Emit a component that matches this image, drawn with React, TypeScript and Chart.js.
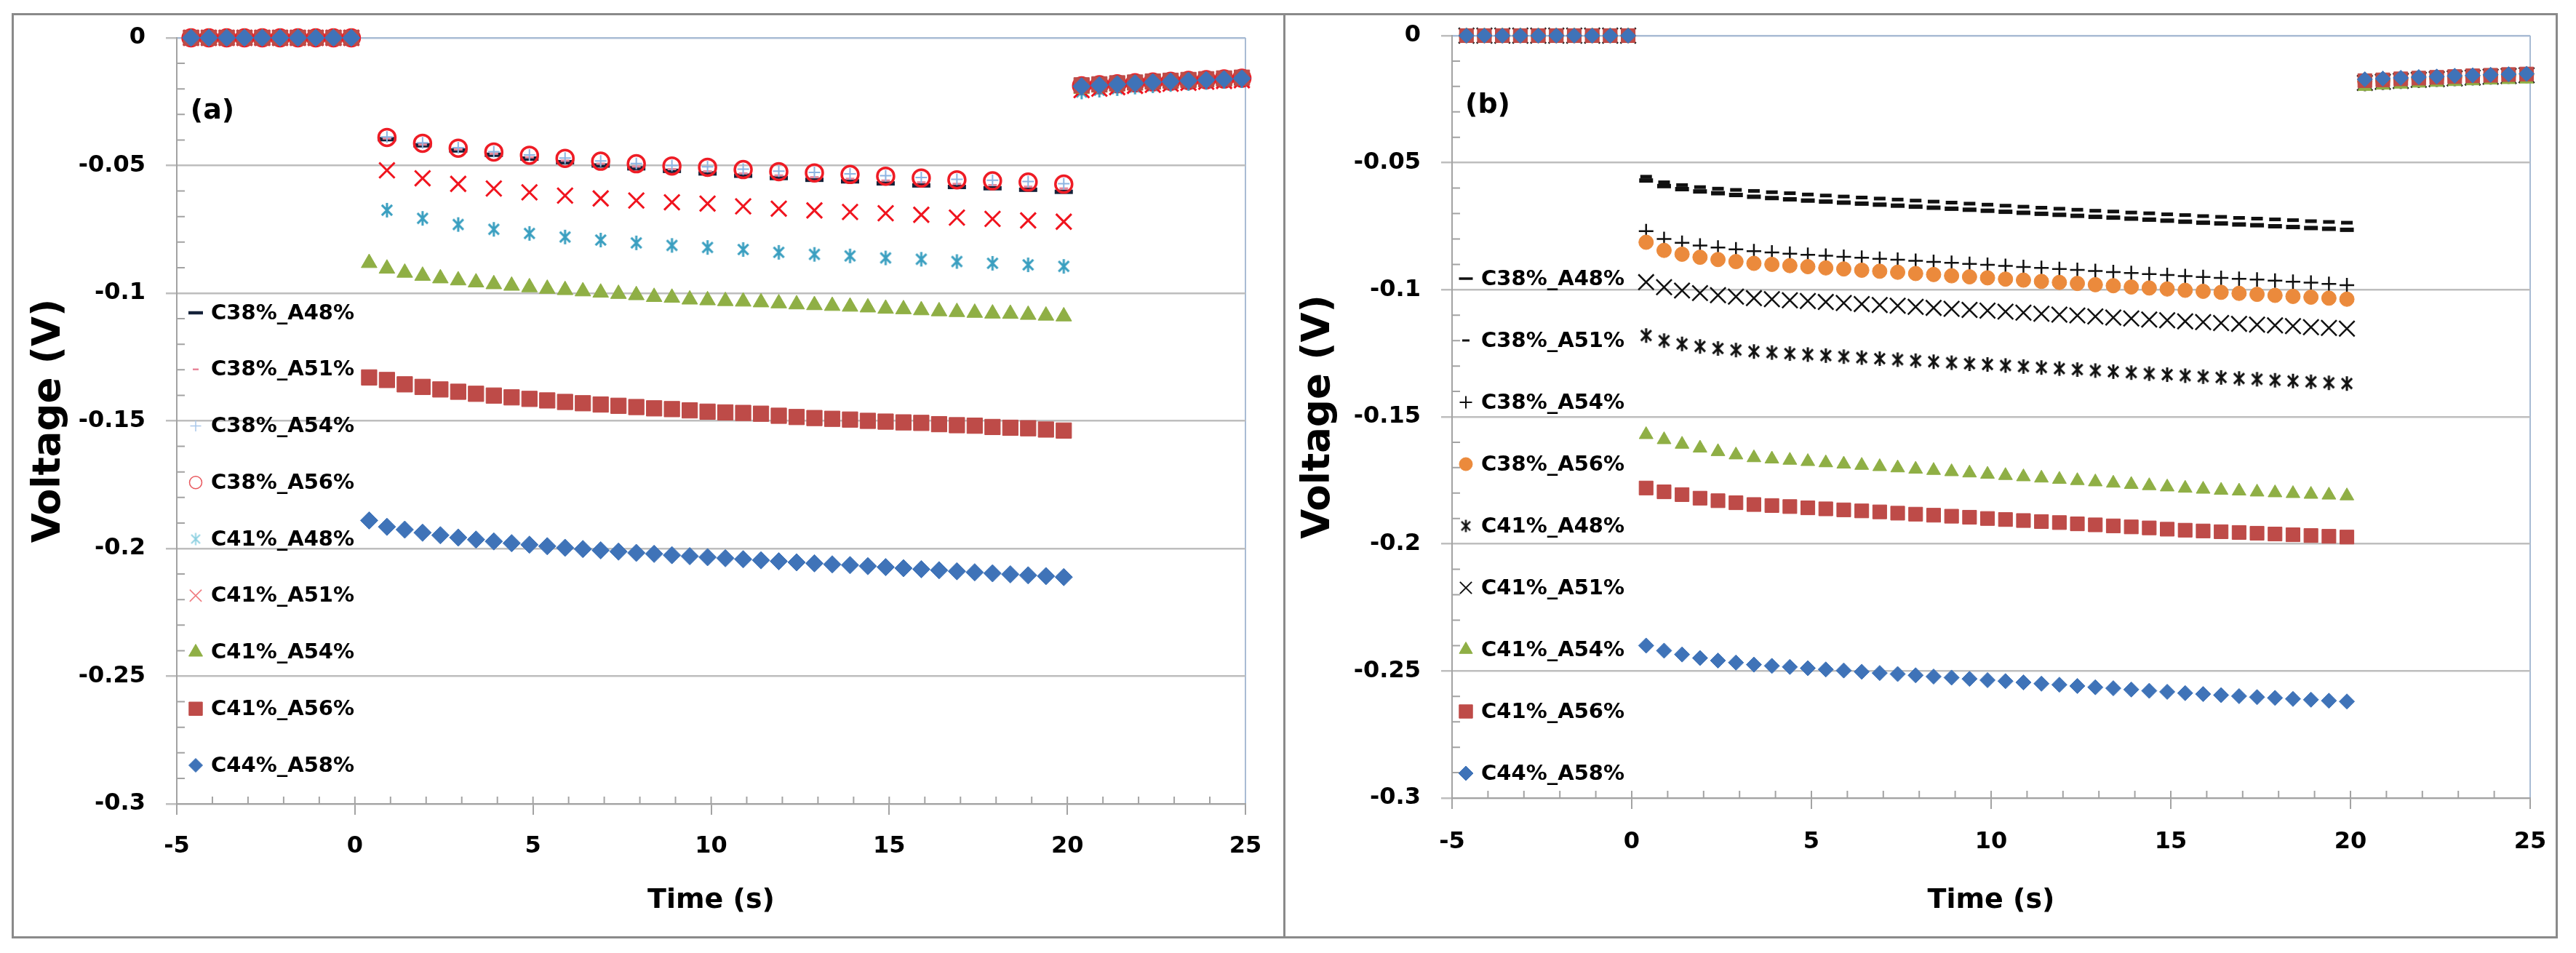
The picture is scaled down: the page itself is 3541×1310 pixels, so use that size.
import React, { useEffect, useRef } from 'react';
import { Chart, registerables } from 'chart.js';
import { drawPoint } from 'chart.js/helpers';

Chart.register(...registerables);
if (typeof document !== 'undefined') {
  document.body.style.margin = '0';
  document.body.style.background = '#ffffff';
}

// ---------- DATA ----------
const tPre = [-4.6, -4.1, -3.6, -3.1, -2.6, -2.1, -1.6, -1.1, -0.6, -0.1];
const tRec = [20.4, 20.9, 21.4, 21.9, 22.4, 22.9, 23.4, 23.9, 24.4, 24.9];
const tFast = [0.4, 0.9, 1.4, 1.9, 2.4, 2.9, 3.4, 3.9, 4.4, 4.9, 5.4, 5.9, 6.4, 6.9, 7.4, 7.9, 8.4, 8.9, 9.4, 9.9,
  10.4, 10.9, 11.4, 11.9, 12.4, 12.9, 13.4, 13.9, 14.4, 14.9, 15.4, 15.9, 16.4, 16.9, 17.4, 17.9, 18.4, 18.9, 19.4, 19.9];
const tSlow = [0.9, 1.9, 2.9, 3.9, 4.9, 5.9, 6.9, 7.9, 8.9, 9.9, 10.9, 11.9, 12.9, 13.9, 14.9, 15.9, 16.9, 17.9, 18.9, 19.9];
const preZero = [0, 0, 0, 0, 0, 0, 0, 0, 0, 0];

const seriesLabels = ['C38%_A48%', 'C38%_A51%', 'C38%_A54%', 'C38%_A56%', 'C41%_A48%', 'C41%_A51%', 'C41%_A54%', 'C41%_A56%', 'C44%_A58%'];
const xTickStep = 5;
const yTickStep = 0.05;

// panel (a)
const a_C38_A48 = [-0.0397, -0.0421, -0.0441, -0.0458, -0.0473, -0.0487, -0.0500, -0.0511, -0.0521, -0.0531, -0.0540, -0.0549, -0.0556, -0.0562, -0.0570, -0.0578, -0.0584, -0.0589, -0.0595, -0.0603];
const a_C38_A51 = [-0.0394, -0.0418, -0.0437, -0.0454, -0.0468, -0.0481, -0.0493, -0.0504, -0.0514, -0.0523, -0.0531, -0.0539, -0.0546, -0.0552, -0.0559, -0.0566, -0.0572, -0.0577, -0.0583, -0.0590];
const a_C38_A54 = [-0.0388, -0.0411, -0.0430, -0.0446, -0.0459, -0.0471, -0.0482, -0.0492, -0.0500, -0.0505, -0.0514, -0.0522, -0.0527, -0.0533, -0.0540, -0.0547, -0.0554, -0.0558, -0.0563, -0.0571];
const a_C38_A56 = [-0.0390, -0.0413, -0.0432, -0.0447, -0.0460, -0.0472, -0.0483, -0.0493, -0.0502, -0.0507, -0.0516, -0.0524, -0.0529, -0.0535, -0.0542, -0.0549, -0.0556, -0.0560, -0.0565, -0.0573];
const a_C41_A48 = [-0.0675, -0.0707, -0.0731, -0.0750, -0.0766, -0.0780, -0.0792, -0.0803, -0.0813, -0.0821, -0.0829, -0.0840, -0.0848, -0.0854, -0.0862, -0.0867, -0.0876, -0.0883, -0.0889, -0.0895];
const a_C41_A51 = [-0.0519, -0.0550, -0.0572, -0.0590, -0.0605, -0.0618, -0.0629, -0.0637, -0.0644, -0.0649, -0.0660, -0.0669, -0.0676, -0.0682, -0.0687, -0.0693, -0.0704, -0.0709, -0.0715, -0.0720];
const a_C41_A54 = [-0.0882, -0.0904, -0.0920, -0.0932, -0.0942, -0.0950, -0.0958, -0.0965, -0.0971, -0.0977, -0.0983, -0.0988, -0.0993, -0.0998, -0.1003, -0.1008,
  -0.1015, -0.1018, -0.1025, -0.1028, -0.1031, -0.1033, -0.1036, -0.1040, -0.1044, -0.1047, -0.1050, -0.1053, -0.1056, -0.1061, -0.1063, -0.1067, -0.1071, -0.1074, -0.1077, -0.1080, -0.1081, -0.1085, -0.1088, -0.1091];
const a_C41_A56 = [-0.1330, -0.1340, -0.1357, -0.1367, -0.1377, -0.1386, -0.1394, -0.1401, -0.1408, -0.1414, -0.1420, -0.1426, -0.1431, -0.1436, -0.1441, -0.1446,
  -0.1451, -0.1454, -0.1459, -0.1464, -0.1467, -0.1469, -0.1472, -0.1480, -0.1485, -0.1489, -0.1492, -0.1495, -0.1500, -0.1503, -0.1506, -0.1508, -0.1513, -0.1517, -0.1519, -0.1524, -0.1527, -0.1529, -0.1534, -0.1538];
const a_C44_A58 = [-0.1890, -0.1915, -0.1926, -0.1938, -0.1948, -0.1957, -0.1965, -0.1972, -0.1979, -0.1985, -0.1991, -0.1997, -0.2002, -0.2007, -0.2012, -0.2017, -0.2021, -0.2026, -0.2030, -0.2034,
  -0.2038, -0.2042, -0.2046, -0.2050, -0.2054, -0.2058, -0.2062, -0.2065, -0.2069, -0.2073, -0.2077, -0.2081, -0.2085, -0.2089, -0.2093, -0.2097, -0.2101, -0.2105, -0.2108, -0.2112];
const recA_C38 = [-0.0188, -0.0184, -0.0180, -0.0176, -0.0173, -0.0170, -0.0167, -0.0164, -0.0161, -0.0158];
const recA_C41_48 = [-0.0212, -0.0205, -0.0199, -0.0193, -0.0188, -0.0183, -0.0179, -0.0175, -0.0171, -0.0168];
const recA_C41_51 = [-0.0205, -0.0199, -0.0193, -0.0188, -0.0184, -0.0180, -0.0176, -0.0172, -0.0169, -0.0166];
const recA_C41_54 = [-0.0200, -0.0195, -0.0190, -0.0186, -0.0182, -0.0178, -0.0174, -0.0171, -0.0168, -0.0165];
const recA_C41_56 = [-0.0186, -0.0182, -0.0178, -0.0175, -0.0171, -0.0168, -0.0165, -0.0162, -0.0159, -0.0156];
const recA_C44 = [-0.0190, -0.0186, -0.0182, -0.0178, -0.0174, -0.0171, -0.0168, -0.0165, -0.0162, -0.0159];

// panel (b)
const b_C38_A48 = [-0.0570, -0.0592, -0.0604, -0.0613, -0.0620, -0.0627, -0.0634, -0.0639, -0.0644, -0.0649, -0.0653, -0.0657, -0.0661, -0.0665, -0.0669, -0.0673, -0.0677, -0.0681, -0.0685, -0.0689,
  -0.0693, -0.0697, -0.0701, -0.0705, -0.0709, -0.0713, -0.0716, -0.0720, -0.0724, -0.0728, -0.0732, -0.0736, -0.0739, -0.0743, -0.0746, -0.0750, -0.0753, -0.0757, -0.0760, -0.0764];
const b_C38_A51 = [-0.0555, -0.0577, -0.0588, -0.0596, -0.0602, -0.0607, -0.0611, -0.0616, -0.0620, -0.0625, -0.0629, -0.0633, -0.0637, -0.0641, -0.0645, -0.0649, -0.0653, -0.0657, -0.0661, -0.0665,
  -0.0669, -0.0673, -0.0677, -0.0681, -0.0685, -0.0689, -0.0692, -0.0696, -0.0699, -0.0703, -0.0706, -0.0710, -0.0713, -0.0717, -0.0720, -0.0723, -0.0726, -0.0730, -0.0733, -0.0736];
const b_C38_A54 = [-0.0769, -0.0800, -0.0815, -0.0826, -0.0834, -0.0841, -0.0848, -0.0853, -0.0858, -0.0862, -0.0866, -0.0870, -0.0874, -0.0878, -0.0882, -0.0886, -0.0890, -0.0894, -0.0898, -0.0902,
  -0.0906, -0.0910, -0.0914, -0.0918, -0.0922, -0.0926, -0.0930, -0.0934, -0.0938, -0.0942, -0.0946, -0.0950, -0.0953, -0.0957, -0.0960, -0.0964, -0.0968, -0.0972, -0.0977, -0.0982];
const b_C38_A56 = [-0.0813, -0.0845, -0.0860, -0.0872, -0.0881, -0.0889, -0.0896, -0.0900, -0.0905, -0.0909, -0.0914, -0.0918, -0.0923, -0.0927, -0.0931, -0.0936, -0.0940, -0.0945, -0.0949, -0.0953,
  -0.0958, -0.0962, -0.0967, -0.0971, -0.0975, -0.0980, -0.0984, -0.0989, -0.0993, -0.0997, -0.1002, -0.1006, -0.1010, -0.1014, -0.1018, -0.1022, -0.1026, -0.1029, -0.1033, -0.1037];
const b_C41_A48 = [-0.1180, -0.1200, -0.1213, -0.1223, -0.1231, -0.1237, -0.1243, -0.1247, -0.1251, -0.1255, -0.1259, -0.1263, -0.1267, -0.1271, -0.1275, -0.1279, -0.1283, -0.1287, -0.1291, -0.1294,
  -0.1298, -0.1302, -0.1306, -0.1310, -0.1314, -0.1318, -0.1322, -0.1326, -0.1330, -0.1334, -0.1338, -0.1342, -0.1345, -0.1349, -0.1352, -0.1356, -0.1359, -0.1362, -0.1366, -0.1369];
const b_C41_A51 = [-0.0970, -0.0990, -0.1003, -0.1013, -0.1021, -0.1027, -0.1033, -0.1037, -0.1041, -0.1044, -0.1048, -0.1052, -0.1056, -0.1060, -0.1063, -0.1067, -0.1071, -0.1075, -0.1079, -0.1082,
  -0.1086, -0.1090, -0.1094, -0.1098, -0.1101, -0.1105, -0.1109, -0.1113, -0.1117, -0.1120, -0.1124, -0.1127, -0.1131, -0.1134, -0.1137, -0.1140, -0.1143, -0.1147, -0.1150, -0.1153];
const b_C41_A54 = [-0.1570, -0.1590, -0.1608, -0.1623, -0.1637, -0.1650, -0.1661, -0.1666, -0.1671, -0.1676, -0.1681, -0.1686, -0.1691, -0.1696, -0.1701, -0.1706, -0.1711, -0.1716, -0.1721, -0.1726,
  -0.1731, -0.1736, -0.1741, -0.1746, -0.1751, -0.1756, -0.1761, -0.1766, -0.1771, -0.1776, -0.1781, -0.1785, -0.1789, -0.1792, -0.1796, -0.1799, -0.1802, -0.1805, -0.1808, -0.1811];
const b_C41_A56 = [-0.1780, -0.1795, -0.1806, -0.1820, -0.1830, -0.1838, -0.1845, -0.1849, -0.1853, -0.1858, -0.1862, -0.1866, -0.1870, -0.1874, -0.1879, -0.1883, -0.1887, -0.1891, -0.1895, -0.1900,
  -0.1904, -0.1908, -0.1912, -0.1916, -0.1921, -0.1925, -0.1929, -0.1933, -0.1937, -0.1942, -0.1946, -0.1949, -0.1952, -0.1955, -0.1958, -0.1961, -0.1964, -0.1967, -0.1970, -0.1973];
const b_C44_A58 = [-0.2400, -0.2420, -0.2435, -0.2449, -0.2459, -0.2467, -0.2475, -0.2480, -0.2484, -0.2489, -0.2494, -0.2498, -0.2503, -0.2508, -0.2512, -0.2517, -0.2522, -0.2526, -0.2531, -0.2536,
  -0.2540, -0.2545, -0.2550, -0.2554, -0.2559, -0.2564, -0.2568, -0.2573, -0.2578, -0.2582, -0.2587, -0.2591, -0.2595, -0.2599, -0.2603, -0.2606, -0.2610, -0.2613, -0.2617, -0.2620];
const recB_C38 = [-0.0180, -0.0176, -0.0172, -0.0169, -0.0166, -0.0163, -0.0160, -0.0157, -0.0155, -0.0152];
const recB_C41_48 = [-0.0190, -0.0185, -0.0181, -0.0177, -0.0173, -0.0170, -0.0167, -0.0164, -0.0161, -0.0158];
const recB_C41_51 = [-0.0186, -0.0182, -0.0178, -0.0174, -0.0171, -0.0168, -0.0165, -0.0162, -0.0159, -0.0156];
const recB_C41_54 = [-0.0200, -0.0195, -0.0191, -0.0187, -0.0184, -0.0181, -0.0178, -0.0175, -0.0173, -0.0171];
const recB_C41_56 = [-0.0177, -0.0174, -0.0170, -0.0167, -0.0164, -0.0161, -0.0158, -0.0156, -0.0153, -0.0151];
const recB_C44 = [-0.0172, -0.0169, -0.0166, -0.0163, -0.0161, -0.0158, -0.0156, -0.0154, -0.0152, -0.0150];

// ---------- STYLE ----------
const FONT = "'DejaVu Sans', 'Liberation Sans', sans-serif";
const GRID = '#BEBEBE';
const AXIS = '#A3A3A3';
const FRAME = '#A9BCD4';

function asterisk(size: number, color: string, lw: number) {
  const c = document.createElement('canvas');
  c.width = size; c.height = size;
  const g = c.getContext('2d')!;
  g.strokeStyle = color; g.lineWidth = lw;
  const m = size / 2; const r = size / 2 - 1;
  const d = r * Math.SQRT1_2;
  g.beginPath();
  g.moveTo(m, m - r); g.lineTo(m, m + r);
  g.moveTo(m - d, m - d); g.lineTo(m + d, m + d);
  g.moveTo(m + d, m - d); g.lineTo(m - d, m + d);
  g.stroke();
  return c;
}

type St = { style: any; r: number; bw: number; stroke: string; fill: string; ls: any; lr: number; lbw: number; lstroke: string; lfill: string };

function stylesA(): St[] {
  const T = 'rgba(0,0,0,0)';
  return [
    { style: 'line', r: 12.5, bw: 6, stroke: '#15223A', fill: T, ls: 'line', lr: 10, lbw: 4.5, lstroke: '#15223A', lfill: T },
    { style: 'line', r: 6, bw: 3, stroke: '#E8879B', fill: T, ls: 'line', lr: 4, lbw: 2.5, lstroke: '#E8879B', lfill: T },
    { style: 'cross', r: 8, bw: 2, stroke: '#8DB4E2', fill: T, ls: 'cross', lr: 7.5, lbw: 1.5, lstroke: '#A9C7EA', lfill: T },
    { style: 'circle', r: 11.5, bw: 3.5, stroke: '#EE1C25', fill: T, ls: 'circle', lr: 8.5, lbw: 1.5, lstroke: '#E8585E', lfill: T },
    { style: asterisk(22, '#3A9FC0', 3), r: 10, bw: 0, stroke: '#3A9FC0', fill: T, ls: asterisk(19, '#8ACFE0', 1.8), lr: 9, lbw: 0, lstroke: '#8ACFE0', lfill: T },
    { style: 'crossRot', r: 15, bw: 3, stroke: '#F0141E', fill: T, ls: 'crossRot', lr: 11.5, lbw: 1.6, lstroke: '#F07C80', lfill: T },
    { style: 'triangle', r: 12.5, bw: 1, stroke: '#8FAF45', fill: '#8FAF45', ls: 'triangle', lr: 11, lbw: 1, lstroke: '#8FAF45', lfill: '#8FAF45' },
    { style: 'rect', r: 15, bw: 1, stroke: '#BE4B48', fill: '#BE4B48', ls: 'rect', lr: 13, lbw: 1, lstroke: '#BE4B48', lfill: '#BE4B48' },
    { style: 'rectRot', r: 12, bw: 1, stroke: '#3F73B8', fill: '#3F73B8', ls: 'rectRot', lr: 9.5, lbw: 1, lstroke: '#3F73B8', lfill: '#3F73B8' },
  ];
}

function stylesB(): St[] {
  const T = 'rgba(0,0,0,0)';
  const K = '#111111';
  return [
    { style: 'line', r: 9.5, bw: 6, stroke: K, fill: T, ls: 'line', lr: 9.5, lbw: 3.5, lstroke: K, lfill: T },
    { style: 'line', r: 8, bw: 5, stroke: K, fill: T, ls: 'line', lr: 5, lbw: 3, lstroke: K, lfill: T },
    { style: 'cross', r: 10, bw: 2.5, stroke: K, fill: T, ls: 'cross', lr: 8.5, lbw: 2, lstroke: K, lfill: T },
    { style: 'circle', r: 10, bw: 1, stroke: '#EB8A3C', fill: '#EB8A3C', ls: 'circle', lr: 9, lbw: 1, lstroke: '#EB8A3C', lfill: '#EB8A3C' },
    { style: asterisk(22, K, 3), r: 10, bw: 0, stroke: K, fill: T, ls: asterisk(19, K, 2.5), lr: 9, lbw: 0, lstroke: K, lfill: T },
    { style: 'crossRot', r: 15, bw: 2.5, stroke: K, fill: T, ls: 'crossRot', lr: 11.5, lbw: 2, lstroke: K, lfill: T },
    { style: 'triangle', r: 11, bw: 1, stroke: '#8FAF45', fill: '#8FAF45', ls: 'triangle', lr: 10.5, lbw: 1, lstroke: '#8FAF45', lfill: '#8FAF45' },
    { style: 'rect', r: 13.5, bw: 1, stroke: '#BE4B48', fill: '#BE4B48', ls: 'rect', lr: 13, lbw: 1, lstroke: '#BE4B48', lfill: '#BE4B48' },
    { style: 'rectRot', r: 10.5, bw: 1, stroke: '#3F73B8', fill: '#3F73B8', ls: 'rectRot', lr: 10, lbw: 1, lstroke: '#3F73B8', lfill: '#3F73B8' },
  ];
}

type Series = { on: number[]; tOn: number[]; rec: number[] };

const seriesA: Series[] = [
  { on: a_C38_A48, tOn: tSlow, rec: recA_C38 },
  { on: a_C38_A51, tOn: tSlow, rec: recA_C38 },
  { on: a_C38_A54, tOn: tSlow, rec: recA_C38 },
  { on: a_C38_A56, tOn: tSlow, rec: recA_C38 },
  { on: a_C41_A48, tOn: tSlow, rec: recA_C41_48 },
  { on: a_C41_A51, tOn: tSlow, rec: recA_C41_51 },
  { on: a_C41_A54, tOn: tFast, rec: recA_C41_54 },
  { on: a_C41_A56, tOn: tFast, rec: recA_C41_56 },
  { on: a_C44_A58, tOn: tFast, rec: recA_C44 },
];
const seriesB: Series[] = [
  { on: b_C38_A48, tOn: tFast, rec: recB_C38 },
  { on: b_C38_A51, tOn: tFast, rec: recB_C38 },
  { on: b_C38_A54, tOn: tFast, rec: recB_C38 },
  { on: b_C38_A56, tOn: tFast, rec: recB_C38 },
  { on: b_C41_A48, tOn: tFast, rec: recB_C41_48 },
  { on: b_C41_A51, tOn: tFast, rec: recB_C41_51 },
  { on: b_C41_A54, tOn: tFast, rec: recB_C41_54 },
  { on: b_C41_A56, tOn: tFast, rec: recB_C41_56 },
  { on: b_C44_A58, tOn: tFast, rec: recB_C44 },
];

type Layout = {
  panel: string; yw: number; top: number; right: number; xh: number;
  ypad: number; xpad: number; ytpad: number; xtpad: number;
  lmx: number; ltx: number; ly0: number; lstep: number; pbx: number; pby: number;
};

const pts = (xs: number[], ys: number[]) => xs.map((x, i) => ({ x, y: ys[i] }));

function makeConfig(series: Series[], styles: St[], L: Layout): any {
  const n = series.length;
  const datasets = series.map((s, i) => {
    const st = styles[i];
    return {
      label: seriesLabels[i],
      data: [...pts(tPre, preZero), ...pts(s.tOn, s.on), ...pts(tRec, s.rec)],
      showLine: false,
      clip: false,
      order: n - i,
      pointStyle: st.style,
      pointRadius: st.r,
      pointBorderWidth: st.bw,
      pointBorderColor: st.stroke,
      pointBackgroundColor: st.fill,
      pointHoverRadius: st.r,
    };
  });

  const overlay = {
    id: 'overlay_' + L.panel,
    afterDraw(chart: any) {
      const { ctx, chartArea, scales } = chart;
      const xs = scales.x; const ys = scales.y;
      ctx.save();
      ctx.strokeStyle = AXIS; ctx.lineWidth = 2;
      ctx.beginPath();
      for (let k = -4; k <= 24; k++) {
        const px = xs.getPixelForValue(k);
        ctx.moveTo(px, chartArea.bottom); ctx.lineTo(px, chartArea.bottom - 10);
      }
      for (let k = 1; k <= 29; k++) {
        if (k % 5 === 0) continue;
        const py = ys.getPixelForValue(-k / 100);
        ctx.moveTo(chartArea.left, py); ctx.lineTo(chartArea.left + 11, py);
      }
      ctx.stroke();

      // legend
      ctx.font = `bold 29px ${FONT}`;
      ctx.textBaseline = 'middle'; ctx.textAlign = 'left'; ctx.fillStyle = '#000';
      for (let i = 0; i < n; i++) {
        const st = styles[i];
        const y = chartArea.top + L.ly0 + i * L.lstep;
        const x = chartArea.left + L.lmx;
        ctx.save();
        ctx.strokeStyle = st.lstroke; ctx.fillStyle = st.lfill; ctx.lineWidth = st.lbw;
        drawPoint(ctx, { pointStyle: st.ls, radius: st.lr, borderWidth: st.lbw, rotation: 0 } as any, x, y);
        ctx.restore();
        ctx.fillStyle = '#000';
        ctx.fillText(seriesLabels[i], chartArea.left + L.ltx, y + 1);
      }
      // panel label
      ctx.font = `bold 38px ${FONT}`;
      ctx.textAlign = 'center';
      ctx.fillText(L.panel, chartArea.left + L.pbx, chartArea.top + L.pby);
      ctx.restore();
    },
  };

  return {
    type: 'scatter',
    data: { datasets },
    plugins: [overlay],
    options: {
      animation: false,
      responsive: false,
      events: [],
      layout: { autoPadding: false, padding: { top: L.top, right: L.right, left: 0, bottom: 0 } },
      plugins: { legend: { display: false }, tooltip: { enabled: false }, title: { display: false } },
      scales: {
        x: {
          type: 'linear', min: -5, max: 25,
          afterFit: (s: any) => { s.height = L.xh; s.paddingLeft = 0; s.paddingRight = 0; },
          ticks: { stepSize: xTickStep, color: '#000', font: { family: FONT, weight: 'bold', size: 32 }, padding: L.xpad, maxRotation: 0, autoSkip: false, callback: (v: any) => String(v) },
          grid: { color: (c: any) => (c.tick && c.tick.value === 25 ? FRAME : 'rgba(0,0,0,0)'), tickColor: AXIS, tickLength: 15, lineWidth: 2 },
          border: { display: true, color: AXIS, width: 2 },
          title: { display: true, text: 'Time (s)', color: '#000', font: { family: FONT, weight: 'bold', size: 38 }, padding: { top: 0, bottom: L.xtpad } },
        },
        y: {
          type: 'linear', min: -0.3, max: 0,
          afterFit: (s: any) => { s.width = L.yw; s.paddingTop = 0; s.paddingBottom = 0; },
          ticks: { stepSize: yTickStep, color: '#000', font: { family: FONT, weight: 'bold', size: 32 }, padding: L.ypad, callback: (v: any) => String(Math.round(Number(v) * 100) / 100) },
          grid: { color: (c: any) => (c.tick && Math.abs(c.tick.value) < 1e-9 ? FRAME : GRID), tickColor: GRID, tickLength: 15, lineWidth: 2.5 },
          border: { display: true, color: AXIS, width: 2 },
          title: { display: true, text: 'Voltage (V)', color: '#000', font: { family: FONT, weight: 'bold', size: 53 }, padding: { top: L.ytpad, bottom: 0 } },
        },
      },
    },
  };
}

const layoutA: Layout = { panel: '(a)', yw: 224, top: 31, right: 52, xh: 182, ypad: 28, xpad: 24, ytpad: 17, xtpad: 26, lmx: 26, ltx: 47, ly0: 378, lstep: 77.75, pbx: 49, pby: 101 };
const layoutB: Layout = { panel: '(b)', yw: 229, top: 28, right: 35, xh: 190, ypad: 28, xpad: 26, ytpad: 14, xtpad: 26, lmx: 19, ltx: 40, ly0: 334, lstep: 85, pbx: 49, pby: 96 };

function Panel(props: { which: 'a' | 'b'; left: number; width: number; cw: number; ch: number; borders: string }) {
  const ref = useRef<HTMLCanvasElement>(null);
  useEffect(() => {
    const cfg = props.which === 'a'
      ? makeConfig(seriesA, stylesA(), layoutA)
      : makeConfig(seriesB, stylesB(), layoutB);
    const chart = new Chart(ref.current as HTMLCanvasElement, cfg);
    return () => chart.destroy();
  }, []);
  return (
    <div style={{ position: 'absolute', left: props.left, top: 18, width: props.width, height: 1272, boxSizing: 'border-box', borderStyle: 'solid', borderColor: '#8A8A8A', borderWidth: props.borders, background: '#fff' }}>
      <canvas ref={ref} width={props.cw} height={props.ch} style={{ display: 'block', width: props.cw, height: props.ch }} />
    </div>
  );
}

export default function App() {
  return (
    <div style={{ position: 'relative', width: 3541, height: 1310, background: '#fff', overflow: 'hidden' }}>
      <Panel which="a" left={16} width={1751} cw={1745} ch={1266} borders="3px 3px 3px 3px" />
      <Panel which="b" left={1767} width={1749} cw={1746} ch={1266} borders="3px 3px 3px 0px" />
    </div>
  );
}
